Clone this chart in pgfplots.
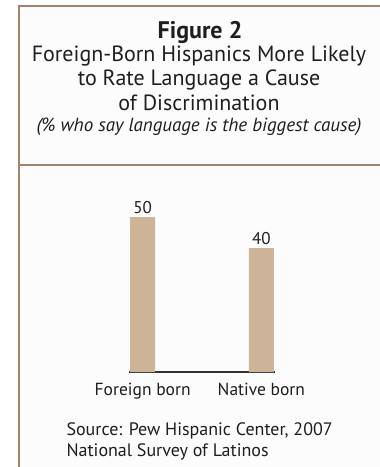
\documentclass[border=0pt]{standalone}
\usepackage{fontspec}
\setmainfont{PT Sans}
\usepackage{pgfplots}
\pgfplotsset{compat=1.18}
\definecolor{frame}{RGB}{165,130,112}
\definecolor{barc}{RGB}{205,180,152}
\definecolor{bg}{RGB}{252,252,252}
\definecolor{txt}{RGB}{30,30,30}
\begin{document}
\begin{tikzpicture}[x=1pt,y=1pt]
\useasboundingbox (0,0) rectangle (380,467);
\fill[bg] (19,0) rectangle (380,461);
\draw[frame, line width=1.5pt] (19,-2) -- (19,461) -- (382,461);
\draw[frame, line width=1.5pt] (19,302) -- (382,302);
\node[txt, font=\bfseries\fontsize{24}{27}\selectfont] at (200,435) {Figure 2};
\node[txt, font=\fontsize{22}{24}\selectfont] at (199,411) {Foreign-Born Hispanics More Likely};
\node[txt, font=\fontsize{22}{24}\selectfont] at (199,387) {to Rate Language a Cause};
\node[txt, font=\fontsize{22}{24}\selectfont] at (199,364) {of Discrimination};
\node[txt, font=\itshape\fontsize{19}{22}\selectfont] at (199,340) {(\% who say language is the biggest cause)};
\begin{axis}[
  at={(129pt,95pt)}, anchor=south west,
  scale only axis, width=146pt, height=155pt,
  xmin=-0.115, xmax=1.115, ymin=0, ymax=50,
  ybar, bar width=25pt, bar shift=0pt,
  axis x line=bottom, axis y line=none,
  x axis line style={-, line width=1.6pt, color=black!80},
  xtick={0,1}, xticklabels={Foreign born, Native born},
  major tick length=0pt,
  xticklabel style={txt, font=\fontsize{17.5}{21}\selectfont, yshift=-8pt},
  nodes near coords,
  nodes near coords style={txt, font=\fontsize{17}{20}\selectfont, /pgf/number format/assume math mode=true},
  clip=false,
]
\addplot[fill=barc, draw=none] coordinates {(0,50) (1,40)};
\end{axis}
\node[txt, font=\fontsize{18}{20}\selectfont, anchor=base west] at (63,31) {Source: Pew Hispanic Center, 2007};
\node[txt, font=\fontsize{18}{20}\selectfont, anchor=base west] at (63,11) {National Survey of Latinos};
\end{tikzpicture}
\end{document}
